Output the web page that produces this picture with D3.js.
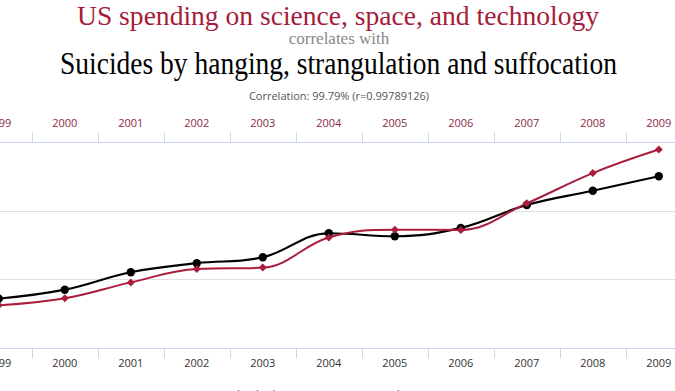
<!DOCTYPE html>
<html>
<head>
<meta charset="utf-8">
<script src="https://cdn.jsdelivr.net/npm/d3@7/dist/d3.min.js"></script>
<style>
html,body{margin:0;padding:0;background:#fff;overflow:hidden;}
svg{display:block;}
</style>
</head>
<body>
<svg id="chart" width="675" height="391"></svg>
<script>
// ---- data ----
const years = [1999, 2000, 2001, 2002, 2003, 2004, 2005, 2006, 2007, 2008, 2009];
const usSpending = [18079, 18594, 19753, 20734, 20831, 23029, 23597, 23584, 25525, 27731, 29449];
const hangingSuicides = [5427, 5688, 6198, 6462, 6635, 7336, 7248, 7491, 8161, 8578, 9000];
const spendingTicks = [15000, 20000, 25000, 30000];
const suicideTicks = [4000, 6000, 8000, 10000];
const titleTop = "US spending on science, space, and technology";
const titleMid = "correlates with";
const titleBottom = "Suicides by hanging, strangulation and suffocation";
const corrText = "Correlation: 99.79% (r=0.99789126)";
const legendLabels = ["Suicides by hanging", "US spending on science"];

// ---- layout ----
const W = 675, H = 391;
const plotTop = 142, plotBottom = 347.5;
const RED = "#ab1d3d", TITLE_RED = "#a51c3a";
const svg = d3.select("#chart");

const x = d3.scaleBand().domain(years).range([-34.2, -34.2 + 66 * years.length]).padding(0);
const yRed = d3.scaleLinear().domain(d3.extent(spendingTicks)).range([plotBottom, plotTop]);
const yBlack = d3.scaleLinear().domain(d3.extent(suicideTicks)).range([plotBottom, plotTop]);
const cx = d => x(d) + x.bandwidth() / 2;

// ---- titles ----
svg.append("text").attr("x", 338).attr("y", 25).attr("text-anchor", "middle")
  .attr("font-family", "Liberation Serif, serif").attr("font-size", 27)
  .attr("fill", TITLE_RED).attr("textLength", 522).attr("lengthAdjust", "spacingAndGlyphs")
  .text(titleTop);
svg.append("text").attr("x", 339).attr("y", 43.5).attr("text-anchor", "middle")
  .attr("font-family", "Liberation Serif, serif").attr("font-size", 17)
  .attr("fill", "#8a8a8a")
  .text(titleMid);
svg.append("text").attr("x", 338.5).attr("y", 74).attr("text-anchor", "middle")
  .attr("font-family", "Liberation Serif, serif").attr("font-size", 31)
  .attr("fill", "#000").attr("textLength", 557).attr("lengthAdjust", "spacingAndGlyphs")
  .text(titleBottom);
svg.append("text").attr("x", 339).attr("y", 100).attr("text-anchor", "middle")
  .attr("font-family", "Open Sans, sans-serif").attr("font-size", 11)
  .attr("fill", "#555")
  .text(corrText);

// ---- gridlines (from spending axis) ----
svg.append("g").selectAll("line").data(spendingTicks.slice(1, -1)).join("line")
  .attr("x1", 0).attr("x2", W)
  .attr("y1", d => Math.round(yRed(d)) + 0.5).attr("y2", d => Math.round(yRed(d)) + 0.5)
  .attr("stroke", "#e0e0e0").attr("stroke-width", 1);

// ---- x axes ----
function xAxis(g, top) {
  const axisY = top ? plotTop : plotBottom;
  const ay = Math.round(axisY) + 0.5;
  g.append("line").attr("x1", 0).attr("x2", W).attr("y1", ay).attr("y2", ay)
    .attr("stroke", "#ccd6eb");
  // ticks at category boundaries
  g.append("g").selectAll("line").data(years).join("line")
    .attr("x1", d => Math.round(x(d)) + 0.5).attr("x2", d => Math.round(x(d)) + 0.5)
    .attr("y1", ay).attr("y2", top ? ay - 10 : ay + 10)
    .attr("stroke", "#ccd6eb");
  const ax = (top ? d3.axisTop(x) : d3.axisBottom(x)).tickSize(0).tickPadding(0);
  const lab = g.append("g").attr("transform", `translate(0,${top ? 127 : 367})`).call(ax);
  lab.select(".domain").remove();
  lab.selectAll("text")
    .attr("dy", 0).attr("y", 0)
    .attr("font-family", "Open Sans, sans-serif").attr("font-size", 11)
    .attr("fill", top ? "#8a2a46" : "#333");
}
svg.append("g").call(g => xAxis(g, true));
svg.append("g").call(g => xAxis(g, false));

// ---- Highcharts-style spline ----
function splinePath(pts) {
  const p = d3.path();
  const n = pts.length;
  const conts = pts.map((pt, i) => {
    if (i === 0 || i === n - 1) return null;
    const [lastX, lastY] = pts[i - 1], [nextX, nextY] = pts[i + 1], [px, py] = pt;
    const s = 1.5, den = 2.5;
    let lcx = (s * px + lastX) / den, lcy = (s * py + lastY) / den;
    let rcx = (s * px + nextX) / den, rcy = (s * py + nextY) / den;
    const corr = ((rcy - lcy) * (rcx - px)) / (rcx - lcx) + py - rcy;
    lcy += corr; rcy += corr;
    if (lcy > lastY && lcy > py) { lcy = Math.max(lastY, py); rcy = 2 * py - lcy; }
    else if (lcy < lastY && lcy < py) { lcy = Math.min(lastY, py); rcy = 2 * py - lcy; }
    if (rcy > nextY && rcy > py) { rcy = Math.max(nextY, py); lcy = 2 * py - rcy; }
    else if (rcy < nextY && rcy < py) { rcy = Math.min(nextY, py); lcy = 2 * py - rcy; }
    return { lcx, lcy, rcx, rcy };
  });
  p.moveTo(pts[0][0], pts[0][1]);
  for (let i = 1; i < n; i++) {
    const prev = conts[i - 1], cur = conts[i];
    const c1x = prev ? prev.rcx : pts[i - 1][0], c1y = prev ? prev.rcy : pts[i - 1][1];
    const c2x = cur ? cur.lcx : pts[i][0], c2y = cur ? cur.lcy : pts[i][1];
    p.bezierCurveTo(c1x, c1y, c2x, c2y, pts[i][0], pts[i][1]);
  }
  return p.toString();
}

// ---- black series: suicides ----
const blackPts = years.map((yr, i) => [cx(yr), yBlack(hangingSuicides[i])]);
svg.append("path").attr("d", splinePath(blackPts))
  .attr("fill", "none").attr("stroke", "#000").attr("stroke-width", 2.2);
svg.append("g").selectAll("circle").data(blackPts).join("circle")
  .attr("cx", d => d[0]).attr("cy", d => d[1]).attr("r", 4.2).attr("fill", "#000");

// ---- red series: spending ----
const redPts = years.map((yr, i) => [cx(yr), yRed(usSpending[i])]);
svg.append("path").attr("d", splinePath(redPts))
  .attr("fill", "none").attr("stroke", RED).attr("stroke-width", 2);
const diamond = d3.symbol().type(d3.symbolSquare).size(32);
svg.append("g").selectAll("path").data(redPts).join("path")
  .attr("d", diamond)
  .attr("transform", d => `translate(${d[0]},${d[1]}) rotate(45)`)
  .attr("fill", RED);

// ---- legend (mostly cut off at bottom) ----
const leg = svg.append("g").attr("font-family", "Open Sans, sans-serif").attr("font-size", 12).attr("fill", "#333");
leg.append("text").attr("x", 207).attr("y", 400).text(legendLabels[0]);
leg.append("text").attr("x", 347).attr("y", 400).text(legendLabels[1]);
</script>
</body>
</html>
